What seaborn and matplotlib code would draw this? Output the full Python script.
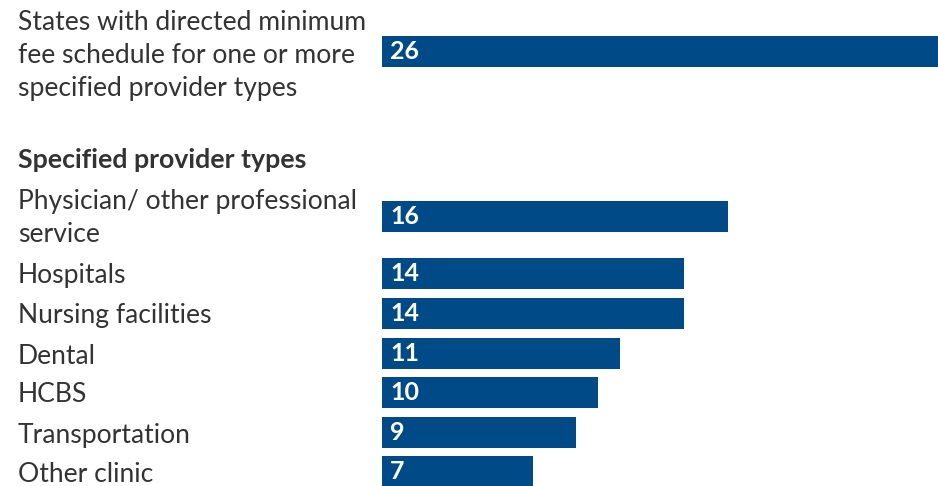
import numpy as np
import pandas as pd
import matplotlib
matplotlib.use("Agg")
import matplotlib.pyplot as plt
import matplotlib.transforms as mtransforms
import seaborn as sns

# ---- data ----
categories = [
    "States with directed minimum\nfee schedule for one or more\nspecified provider types",
    "Physician/ other professional\nservice",
    "Hospitals",
    "Nursing facilities",
    "Dental",
    "HCBS",
    "Transportation",
    "Other clinic",
]
values = [26, 16, 14, 14, 11, 10, 9, 7]
heading = "Specified provider types"

# ---- layout (pixel rows, top to bottom) ----
W, H = 938, 486
row_y = [51.7, 216.0, 273.0, 313.0, 353.5, 392.0, 432.5, 471.5]
heading_y = 160
bar_px = 31
left_px = 382
label_x_px = 18
px_per_unit = 21.6
multiline_lift_px = {3: 3, 2: 5}

sns.set_theme(style="white")
plt.rcParams["font.family"] = ["Lato", "DejaVu Sans"]
TEXT = "#333333"
BLUE = "#004b87"

df = pd.DataFrame({"label": categories, "value": values, "y": row_y})

fig = plt.figure(figsize=(W / 100, H / 100), dpi=100)
ax = fig.add_axes([left_px / W, 0, 1 - left_px / W, 1])

width = bar_px / np.min(np.diff(sorted(row_y)))
sns.barplot(data=df, x="value", y="y", orient="h", native_scale=True,
            color=BLUE, saturation=1, width=width, linewidth=0, ax=ax)

ax.set_ylim(H, 0)
ax.set_xlim(0, (W - left_px) / px_per_unit)
for s in ax.spines.values():
    s.set_visible(False)
ax.set_xlabel("")
ax.set_ylabel("")
ax.set_xticks([])

pad_pt = (left_px - label_x_px) * 72 / 100
ax.set_yticks(row_y)
ax.set_yticklabels(categories)
ax.tick_params(axis="y", length=0, pad=pad_pt)
for t in ax.get_yticklabels():
    t.set_ha("left")
    t.set_fontsize(19.1)
    t.set_color(TEXT)
    t.set_linespacing(1.40)
    n = t.get_text().count("\n") + 1
    if n in multiline_lift_px:
        off = mtransforms.ScaledTranslation(0, multiline_lift_px[n] / 100,
                                            fig.dpi_scale_trans)
        t.set_transform(t.get_transform() + off)

for v, y in zip(values, row_y):
    ax.annotate(str(v), xy=(0, y), xytext=(6, 0), textcoords="offset points",
                ha="left", va="center", color="white", fontsize=18,
                fontweight="bold")

trans = mtransforms.blended_transform_factory(fig.transFigure, ax.transData)
ax.text(label_x_px / W, heading_y, heading, transform=trans, ha="left",
        va="center", fontsize=19.3, fontweight="bold", color=TEXT)

fig.savefig("out.png", dpi=100)
